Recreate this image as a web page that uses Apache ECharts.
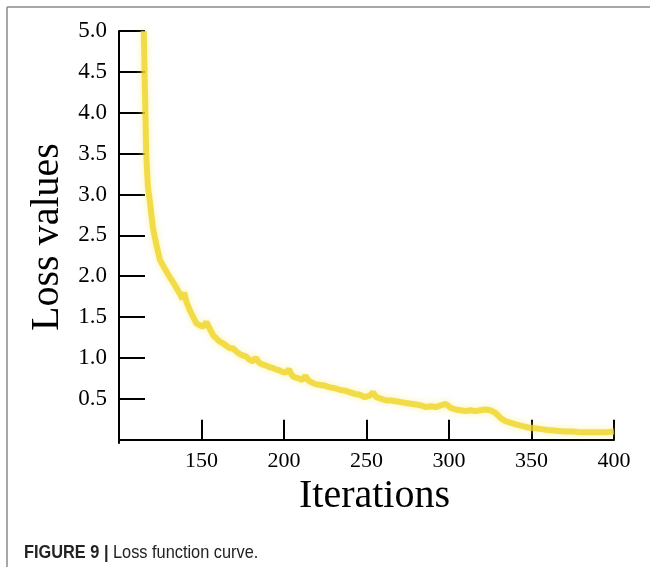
<!DOCTYPE html>
<html>
<head>
<meta charset="utf-8">
<script src="https://cdn.jsdelivr.net/npm/echarts@6/dist/echarts.min.js"></script>
<style>
  html, body { margin: 0; padding: 0; background: #fff; }
  #chart { width: 650px; height: 567px; }
</style>
</head>
<body>
<div id="chart"></div>
<script>
// 横轴迭代次数，纵轴损失值
const iterations = [
  115, 116, 116.5, 117.5, 118.8, 120.5, 122.5, 124.8, 127, 129,
  131, 133, 135, 137, 138.5, 139.5, 141, 143, 145, 147,
  149, 151, 153, 155, 157, 159, 161, 163, 165, 167,
  169, 171, 173, 175, 177, 179, 181, 183, 185, 187,
  189, 191, 193, 195, 197, 199, 201, 203, 205, 207,
  209, 211, 213, 215, 217, 219, 222, 225, 228, 231,
  234, 237, 240, 243, 246, 249, 252, 254, 256, 259,
  262, 265, 268, 271, 274, 277, 280, 283, 286, 289,
  292, 295, 298, 301, 304, 307, 310, 313, 316, 319,
  322, 325, 328, 331, 334, 337, 340, 344, 348, 352,
  356, 360, 365, 370, 375, 380, 385, 390, 395, 400
];
const lossValues = [
  5.0, 4.0, 3.5, 3.1, 2.9, 2.6, 2.4, 2.2, 2.12, 2.05,
  1.98, 1.92, 1.85, 1.78, 1.72, 1.80, 1.68, 1.58, 1.50, 1.42,
  1.40, 1.38, 1.44, 1.36, 1.28, 1.24, 1.20, 1.18, 1.15, 1.12,
  1.12, 1.08, 1.05, 1.03, 1.02, 0.98, 0.96, 1.00, 0.94, 0.92,
  0.91, 0.89, 0.88, 0.86, 0.85, 0.83, 0.82, 0.86, 0.78, 0.76,
  0.75, 0.73, 0.78, 0.72, 0.70, 0.68, 0.67, 0.66, 0.64, 0.63,
  0.61, 0.60, 0.58, 0.56, 0.55, 0.52, 0.54, 0.58, 0.52, 0.50,
  0.48, 0.48, 0.47, 0.46, 0.45, 0.44, 0.43, 0.42, 0.40, 0.41,
  0.40, 0.42, 0.44, 0.39, 0.37, 0.36, 0.35, 0.36, 0.35, 0.36,
  0.37, 0.36, 0.33, 0.27, 0.23, 0.21, 0.19, 0.17, 0.15, 0.14,
  0.13, 0.12, 0.11, 0.10, 0.10, 0.09, 0.09, 0.09, 0.09, 0.10
];
const xTicks = [150, 200, 250, 300, 350, 400];
const yTicks = [0.5, 1.0, 1.5, 2.0, 2.5, 3.0, 3.5, 4.0, 4.5, 5.0];

const chart = echarts.init(document.getElementById('chart'));
const serif = '"Liberation Serif", "DejaVu Serif", serif';
const sans = '"Liberation Sans", Arial, sans-serif';

chart.setOption({
  animation: false,
  graphic: [
    { type: 'line', shape: { x1: 7, y1: 7, x2: 650, y2: 7 }, style: { stroke: '#8a8a8a', lineWidth: 1.5 } },
    { type: 'line', shape: { x1: 7, y1: 7, x2: 7, y2: 567 }, style: { stroke: '#8a8a8a', lineWidth: 1.5 } },
    // 图注
    {
      type: 'text',
      x: 24,
      y: 553,
      scaleX: 0.86,
      style: {
        text: '{b|FIGURE 9 |} Loss function curve.',
        verticalAlign: 'middle',
        font: '19px ' + sans,
        fill: '#222',
        rich: {
          b: { fontFamily: sans, fontSize: 19, fontWeight: 'bold', fill: '#222' }
        }
      }
    }
  ],
  grid: { left: 119, top: 31, right: 36, bottom: 124 },
  xAxis: {
    type: 'value',
    min: 100,
    max: 400,
    name: 'Iterations',
    nameLocation: 'middle',
    nameGap: 32,
    nameTextStyle: { fontFamily: serif, fontSize: 40, color: '#000', padding: [0, 0, 0, 16] },
    splitLine: { show: false },
    axisLine: { lineStyle: { color: '#000', width: 2 } },
    axisTick: { inside: true, length: 20, customValues: xTicks, lineStyle: { color: '#000', width: 2 } },
    axisLabel: { customValues: xTicks, margin: 7, fontFamily: serif, fontSize: 22, color: '#000' }
  },
  yAxis: {
    type: 'value',
    min: -0.04,
    max: 5.0,
    name: 'Loss values',
    nameLocation: 'middle',
    nameGap: 46,
    nameRotate: 90,
    nameTextStyle: { fontFamily: serif, fontSize: 40, color: '#000' },
    splitLine: { show: false },
    axisLine: { show: true, lineStyle: { color: '#000', width: 2 } },
    axisTick: { show: true, inside: true, length: 26, customValues: yTicks, lineStyle: { color: '#000', width: 2 } },
    axisLabel: {
      customValues: yTicks, margin: 12, fontFamily: serif, fontSize: 23, color: '#000',
      formatter: v => v.toFixed(1)
    }
  },
  series: [{
    type: 'line',
    data: iterations.map((x, i) => [x, lossValues[i]]),
    showSymbol: false,
    clip: true,
    lineStyle: {
      color: 'rgba(238, 210, 25, 0.75)',
      width: 6,
      shadowColor: 'rgba(248, 232, 100, 0.7)',
      shadowBlur: 7
    },
    z: 1
  }]
});
</script>
</body>
</html>
